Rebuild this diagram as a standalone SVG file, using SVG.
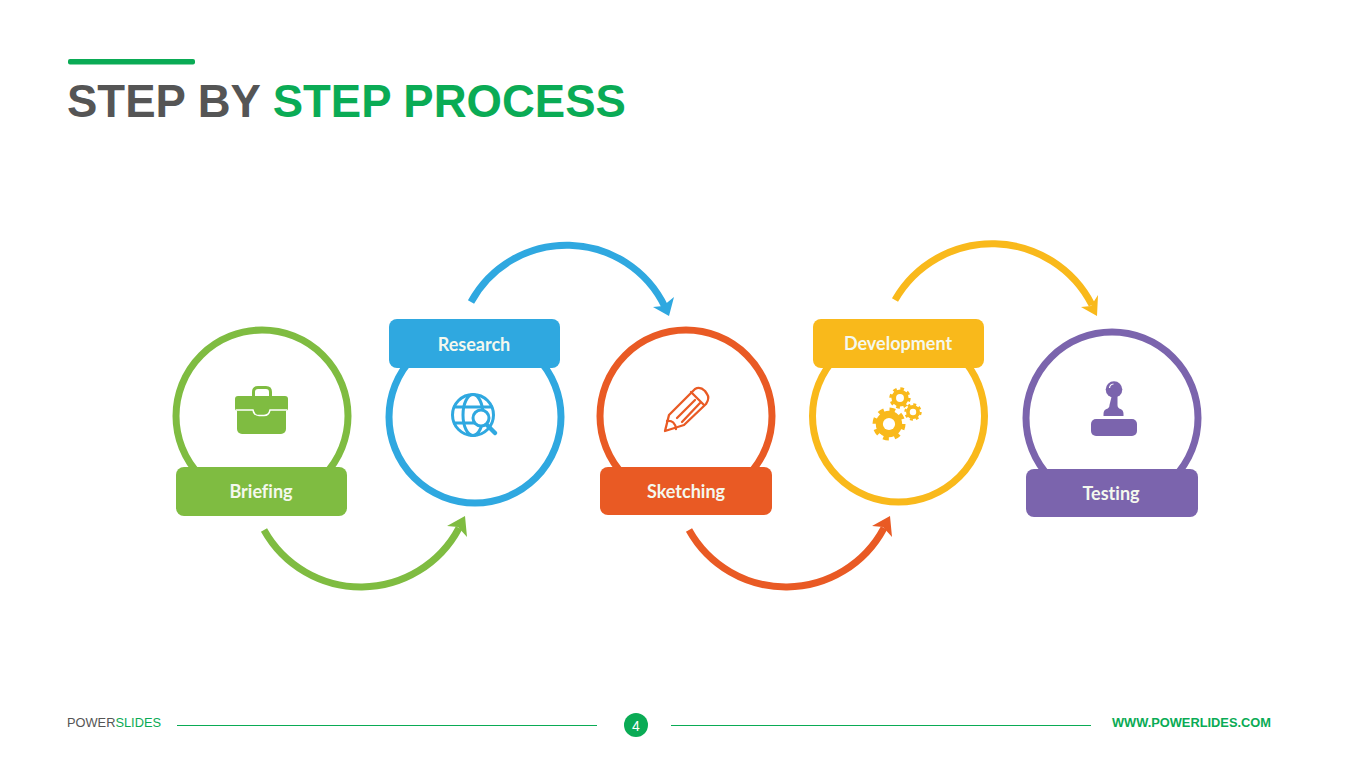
<svg xmlns="http://www.w3.org/2000/svg" xmlns:xlink="http://www.w3.org/1999/xlink" width="1365" height="767" viewBox="0 0 1365 767">
<style>
.ring{fill:none;stroke-width:7}
.tab{font:700 18px Lato,"Liberation Sans",sans-serif;fill:#f4f8ee;text-anchor:middle;font-variant-ligatures:none}
.arc{fill:none;stroke-width:7}
.g{fill:#7fbc41}.gs{stroke:#7fbc41}
.b{fill:#2fa8e0}.bs{stroke:#2fa8e0}
.o{fill:#e95a24}.os{stroke:#e95a24}
.y{fill:#f9b91b}.ys{stroke:#f9b91b}
.p{fill:#7b64ad}.ps{stroke:#7b64ad}
.title{font:700 45.5px "Liberation Sans",Arial,sans-serif}
</style>
<defs>
<g id="gear">
<circle r="0.8" class="y"/>
<circle r="0.87" fill="none" stroke="#f9b91b" stroke-width="0.26" stroke-dasharray="0.342 0.342"/>
<circle r="0.37" fill="#fff"/>
</g>
</defs>
<rect width="1365" height="767" fill="#fff"/>
<g id="header">
<rect x="68" y="59" width="127" height="5.5" rx="2" fill="#0aab55"/>
<text class="title" x="67" y="117" fill="#555"><tspan>STEP BY </tspan><tspan fill="#0aab55">STEP PROCESS</tspan></text>
</g>
<g id="connectors">
<path class="arc gs" d="M264 530A111 111 0 0 0 459 528"/>
<polygon class="g" points="465,516 447,526 458,527 467,537"/>
<path class="arc bs" d="M471 302A109 109 0 0 1 665 307"/>
<polygon class="b" points="669,316 653,307 663,306 674,297"/>
<path class="arc os" d="M689 530A111 111 0 0 0 884 528"/>
<polygon class="o" points="890,516 872,526 883,527 892,537"/>
<path class="arc ys" d="M895 300A112 112 0 0 1 1092 305"/>
<polygon class="y" points="1097,316 1081,307 1091,306 1098,295"/>
</g>
<g id="briefing">
<circle class="ring gs" cx="262" cy="416" r="86"/>
<rect class="g" x="176" y="467" width="171" height="49" rx="8"/>
<text class="tab" x="261" y="498">Briefing</text>
<path d="M253.500 397v-5q0-4.500 4.500-4.500h8q4.500 0 4.500 4.500v5" fill="none" stroke="#7fbc41" stroke-width="3"/>
<rect class="g" x="235" y="396" width="53" height="15" rx="3"/>
<rect class="g" x="237" y="406" width="49" height="28" rx="5"/>
<path d="M236 410H253q1 5.500 6 5.500h5q5 0 6-5.500H287" fill="none" stroke="#fff" stroke-width="1.400"/>
</g>
<g id="research">
<circle class="ring bs" cx="475" cy="417" r="86"/>
<rect class="b" x="389" y="319" width="171" height="49" rx="8"/>
<text class="tab" x="474" y="351">Research</text>
<g fill="none" stroke="#2fa8e0" stroke-width="3">
<circle cx="473" cy="415" r="20.500"/>
<ellipse cx="473" cy="415" rx="10" ry="20.500"/>
<path d="M453 407H493M453 423H480"/>
<circle cx="481" cy="418" r="8" fill="#fff"/>
</g>
<path d="M487 425L495 433" stroke="#2fa8e0" stroke-width="4.500" stroke-linecap="round"/>
</g>
<g id="sketching">
<circle class="ring os" cx="686" cy="416" r="86"/>
<rect class="o" x="600" y="467" width="172" height="48" rx="8"/>
<text class="tab" x="686" y="498">Sketching</text>
<g fill="none" stroke="#e95a24" stroke-width="2.300" stroke-linejoin="round" stroke-linecap="round">
<path d="M665 431L669 415L695 389Q700 386 705 391L707 394Q710 398 706 404L684 425Z"/>
<path d="M667 421Q675 420 676 429M677 418L695 400M682 422L700 403M691 392L704 405"/>
</g>
</g>
<g id="development">
<circle class="ring ys" cx="898.500" cy="416" r="86"/>
<rect class="y" x="813" y="319" width="171" height="49" rx="8"/>
<text class="tab" x="898" y="350">Development</text>
<use xlink:href="#gear" href="#gear" transform="translate(889 424) scale(16.500)"/>
<use xlink:href="#gear" href="#gear" transform="translate(900 398) scale(10.700)"/>
<use xlink:href="#gear" href="#gear" transform="translate(913 412) scale(8.700)"/>
</g>
<g id="testing">
<circle class="ring ps" cx="1112" cy="418" r="86"/>
<rect class="p" x="1026" y="469" width="172" height="48" rx="8"/>
<text class="tab" x="1111" y="500">Testing</text>
<circle class="p" cx="1114" cy="389.500" r="8.300"/>
<path d="M1109.500 388a4.500 4.500 0 0 1 4-4" fill="none" stroke="#fff" stroke-width="1.200"/>
<path class="p" d="M1111 397h6v8q0 3 3 4q3 1 3 5v2h-20v-2q0-4 3-5q3-1 3-4Z" transform="translate(.5 0)"/>
<rect class="p" x="1091" y="419" width="46" height="17" rx="5"/>
</g>
<g id="footer">
<text x="67" y="727" font-family="'Liberation Sans',Arial,sans-serif" font-size="13" fill="#555" textLength="94" lengthAdjust="spacingAndGlyphs">POWER<tspan fill="#0aab55">SLIDES</tspan></text>
<rect x="177" y="725" width="420" height="1" fill="#0aab55"/>
<circle cx="636" cy="725" r="12" fill="#0aab55"/>
<text x="636" y="731" font-family="'Liberation Sans',sans-serif" font-size="14" fill="#fff" text-anchor="middle">4</text>
<rect x="671" y="725" width="420" height="1" fill="#0aab55"/>
<text x="1112" y="727" font-family="'Liberation Sans',Arial,sans-serif" font-weight="700" font-size="13" fill="#0aab55" textLength="159" lengthAdjust="spacingAndGlyphs">WWW.POWERLIDES.COM</text>
</g>
</svg>
